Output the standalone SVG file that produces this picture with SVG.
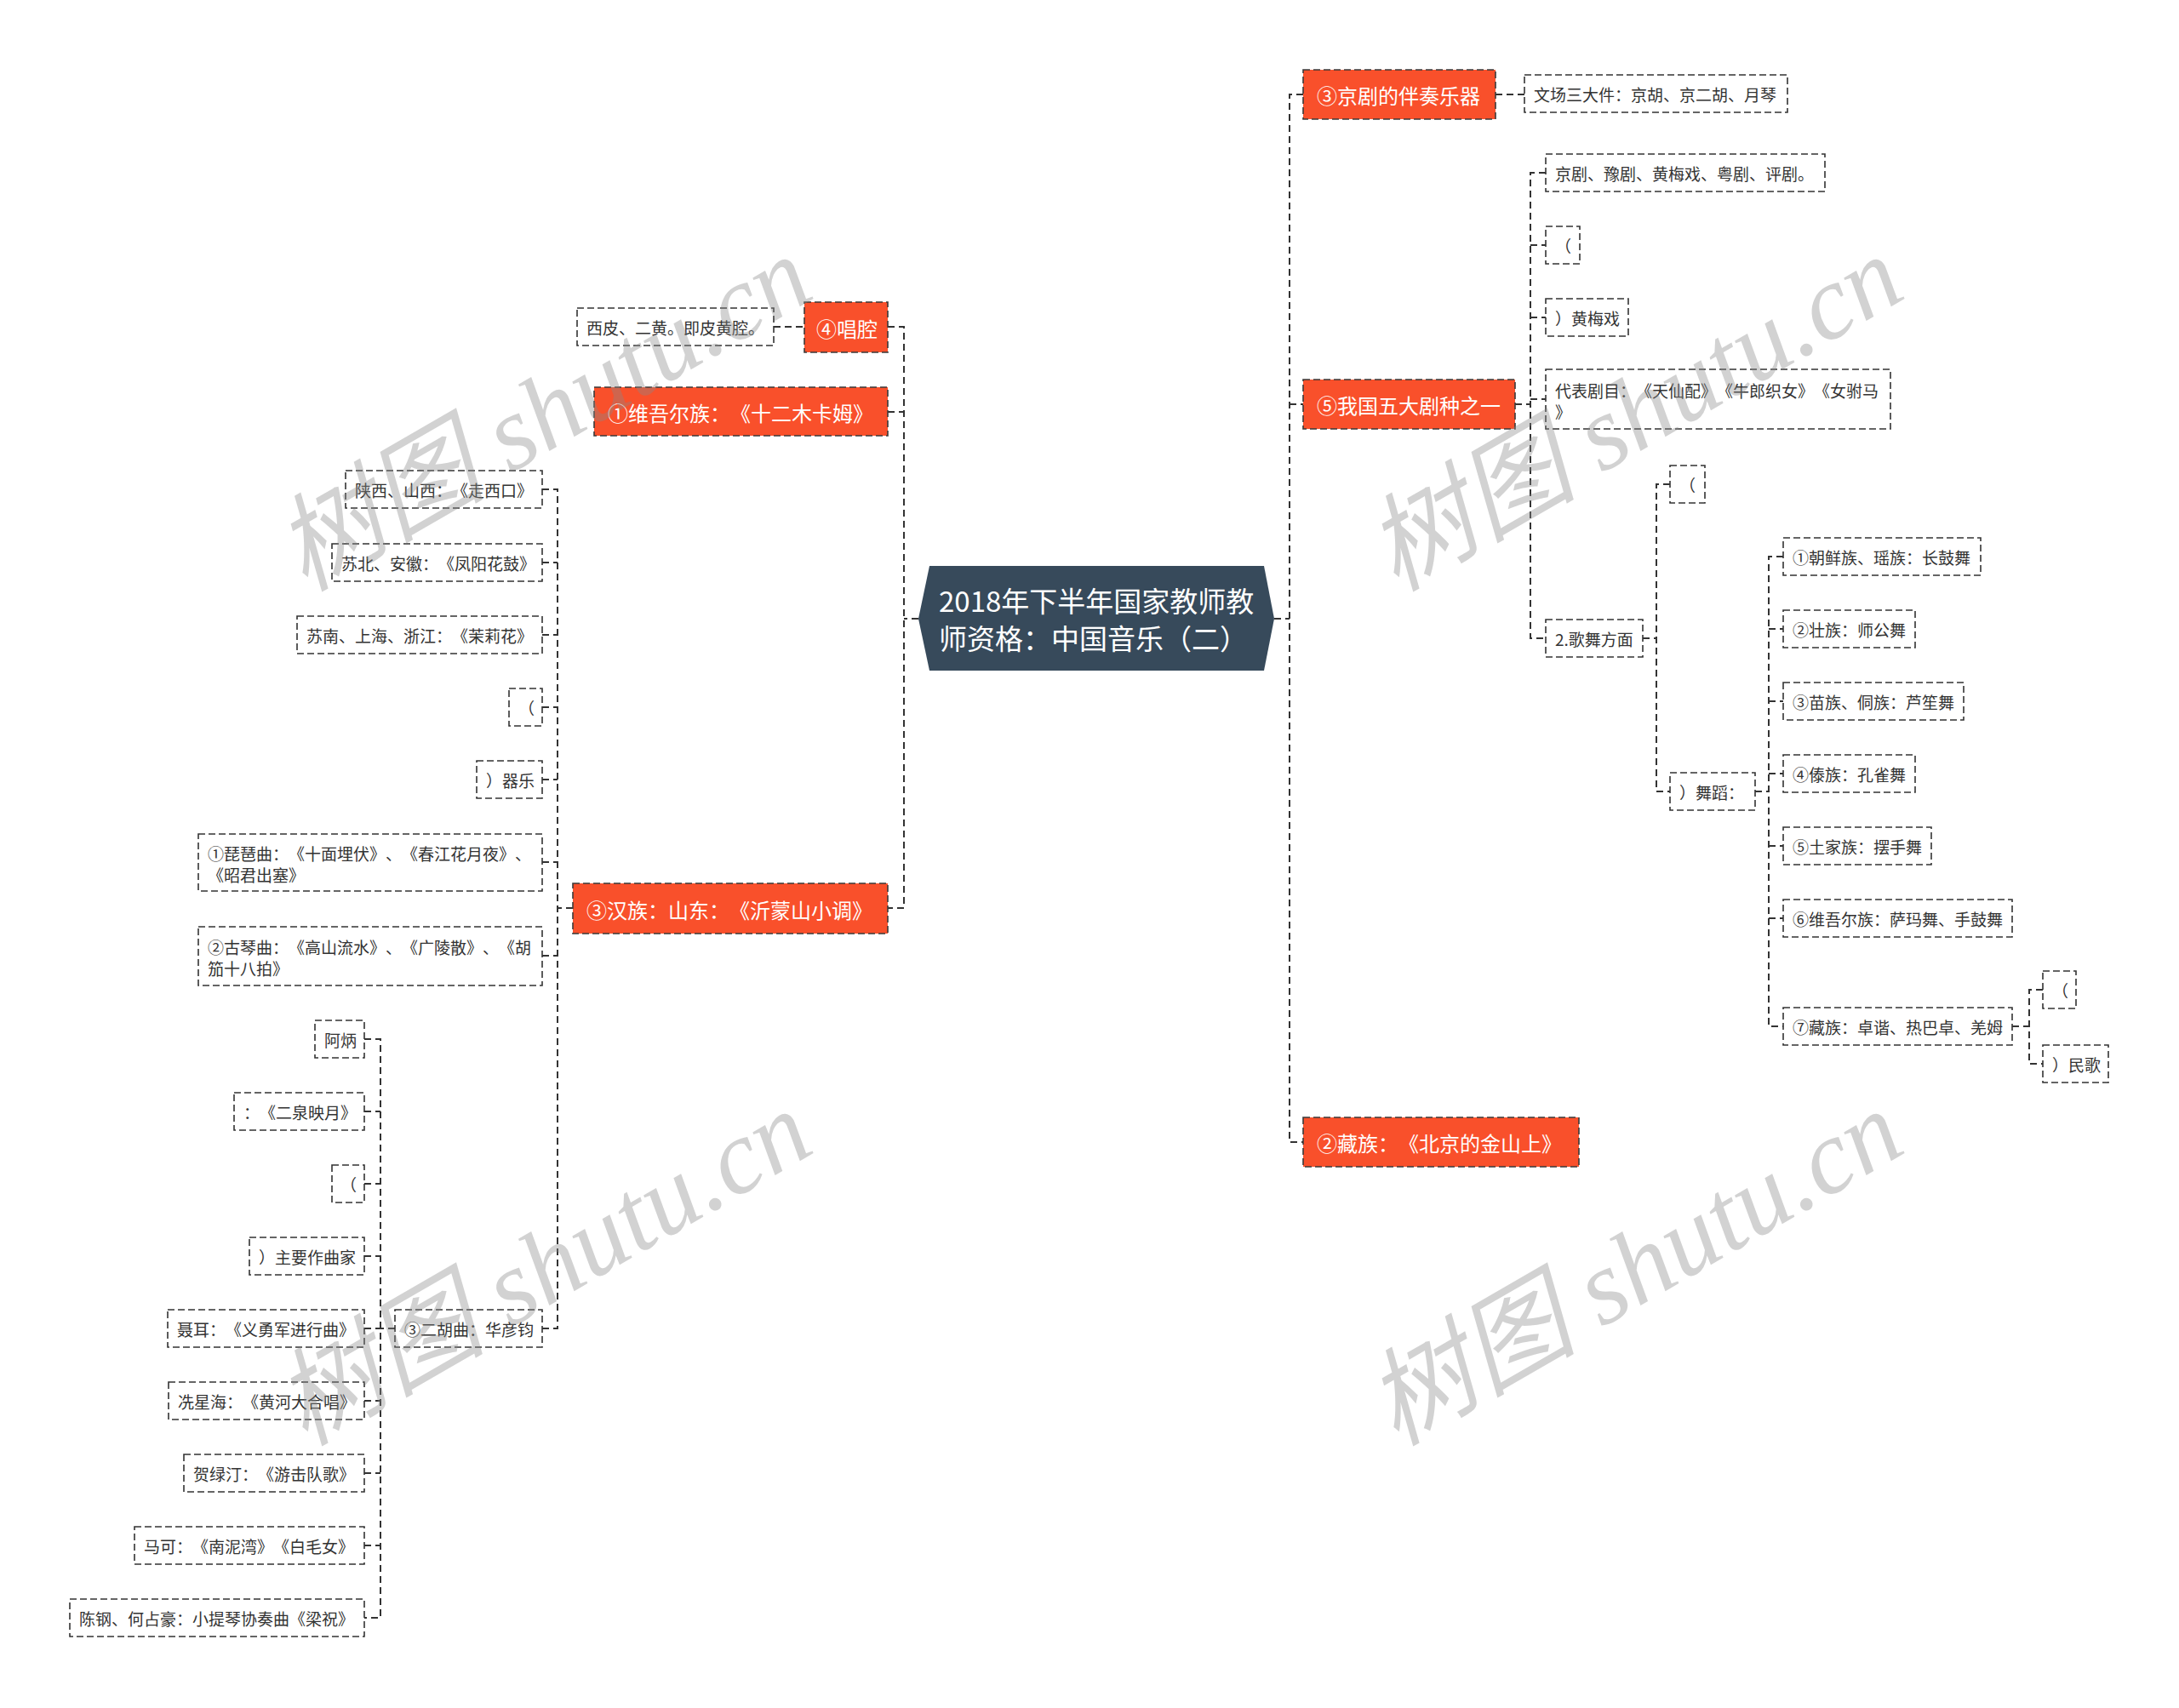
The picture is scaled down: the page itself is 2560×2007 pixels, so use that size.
<svg xmlns="http://www.w3.org/2000/svg" width="2560" height="2007" viewBox="0 0 2560 2007">
<style>
.bg{fill:#ffffff}
text{text-spacing-trim:space-all}
.leaf rect{fill:#ffffff;stroke:#333333;stroke-width:1.6;stroke-dasharray:8 4}
.leaf text{font-family:"Noto Sans CJK SC","Noto Sans",sans-serif;font-size:19px;fill:#333333;dominant-baseline:central}
.main rect{fill:#f9502b;stroke:#3a3a3a;stroke-width:1.6;stroke-dasharray:8 4}
.main text{font-family:"Noto Sans CJK SC","Noto Sans",sans-serif;font-size:24px;fill:#ffffff;dominant-baseline:central}
.root polygon{fill:#374a5b}
.root text{font-family:"Noto Sans CJK SC","Noto Sans",sans-serif;font-size:33px;fill:#ffffff;dominant-baseline:central}
#connectors path{fill:none;stroke:#333333;stroke-width:2;stroke-dasharray:8 5}
.wm{font-family:"Liberation Serif","Noto Sans CJK SC",serif;font-style:italic;font-size:124px;fill:#888888;fill-opacity:0.38}
</style>
<rect class="bg" x="0" y="0" width="2560" height="2007"/>

<g id="connectors">
<path d="M1079,727 H1062"/>
<path d="M1043,384 H1062 V1067 H1043"/>
<path d="M1043,484 H1062"/>
<path d="M909,384 H945"/>
<path d="M673,1067 H655"/>
<path d="M637,575 H655 V1561 H637"/>
<path d="M637,661 H655"/>
<path d="M637,746 H655"/>
<path d="M637,831 H655"/>
<path d="M637,916 H655"/>
<path d="M637,1013 H655"/>
<path d="M637,1123 H655"/>
<path d="M464,1561 H447"/>
<path d="M428,1221 H447 V1901 H428"/>
<path d="M428,1306 H447"/>
<path d="M428,1391 H447"/>
<path d="M428,1476 H447"/>
<path d="M428,1561 H447"/>
<path d="M428,1646 H447"/>
<path d="M428,1731 H447"/>
<path d="M428,1816 H447"/>
<path d="M1497,727 H1515"/>
<path d="M1531,111 H1515 V1342 H1531"/>
<path d="M1515,475 H1531"/>
<path d="M1757,111 H1791"/>
<path d="M1780,475 H1798"/>
<path d="M1816,203 H1798 V750 H1816"/>
<path d="M1798,288 H1816"/>
<path d="M1798,373 H1816"/>
<path d="M1798,469 H1816"/>
<path d="M1930,750 H1946"/>
<path d="M1962,569 H1946 V930 H1962"/>
<path d="M2062,930 H2078"/>
<path d="M2095,654 H2078 V1206 H2095"/>
<path d="M2078,739 H2095"/>
<path d="M2078,824 H2095"/>
<path d="M2078,909 H2095"/>
<path d="M2078,994 H2095"/>
<path d="M2078,1079 H2095"/>
<path d="M2364,1206 H2384"/>
<path d="M2400,1163 H2384 V1250 H2400"/>
</g>

<g id="root" class="root">
<polygon points="1079,727 1092,665 1485,665 1497,727 1485,788 1092,788"/>
<text x="1103" y="705">2018年下半年国家教师教</text>
<text x="1103" y="749">师资格：中国音乐（二）</text>
</g>

<g id="n-changqiang" class="main"><rect x="945" y="355" width="98" height="59"/><text x="959" y="385">④唱腔</text></g>
<g id="n-xipi" class="leaf"><rect x="678" y="362" width="231" height="44"/><text x="689" y="384">西皮、二黄。即皮黄腔。</text></g>
<g id="n-weiwuer" class="main"><rect x="698" y="455" width="345" height="57"/><text x="714" y="484">①维吾尔族：《十二木卡姆》</text></g>
<g id="n-hanzu" class="main"><rect x="673" y="1038" width="370" height="59"/><text x="689" y="1068">③汉族：山东：《沂蒙山小调》</text></g>

<g id="n-shanxi" class="leaf"><rect x="406" y="553" width="231" height="44"/><text x="417" y="575">陕西、山西：《走西口》</text></g>
<g id="n-subei" class="leaf"><rect x="390" y="639" width="247" height="44"/><text x="401" y="661">苏北、安徽：《凤阳花鼓》</text></g>
<g id="n-sunan" class="leaf"><rect x="349" y="724" width="288" height="44"/><text x="360" y="746">苏南、上海、浙江：《茉莉花》</text></g>
<g id="n-paren1" class="leaf"><rect x="598" y="809" width="39" height="44"/><text x="609" y="831">（</text></g>
<g id="n-qiyue" class="leaf"><rect x="560" y="894" width="77" height="44"/><text x="571" y="916">）器乐</text></g>
<g id="n-pipa" class="leaf"><rect x="233" y="980" width="404" height="67"/><text x="244" y="1002">①琵琶曲：《十面埋伏》、《春江花月夜》、</text><text x="244" y="1027">《昭君出塞》</text></g>
<g id="n-guqin" class="leaf"><rect x="233" y="1089" width="404" height="69"/><text x="244" y="1112">②古琴曲：《高山流水》、《广陵散》、《胡</text><text x="244" y="1137">笳十八拍》</text></g>
<g id="n-erhu" class="leaf"><rect x="464" y="1539" width="173" height="44"/><text x="475" y="1561">③二胡曲：华彦钧</text></g>

<g id="n-abing" class="leaf"><rect x="370" y="1199" width="58" height="44"/><text x="381" y="1221">阿炳</text></g>
<g id="n-erquan" class="leaf"><rect x="275" y="1284" width="153" height="44"/><text x="286" y="1306">：《二泉映月》</text></g>
<g id="n-paren2" class="leaf"><rect x="390" y="1369" width="38" height="44"/><text x="400" y="1391">（</text></g>
<g id="n-zuoqujia" class="leaf"><rect x="293" y="1454" width="135" height="44"/><text x="304" y="1476">）主要作曲家</text></g>
<g id="n-nieer" class="leaf"><rect x="197" y="1539" width="231" height="44"/><text x="208" y="1561">聂耳：《义勇军进行曲》</text></g>
<g id="n-xian" class="leaf"><rect x="198" y="1624" width="230" height="44"/><text x="209" y="1646">冼星海：《黄河大合唱》</text></g>
<g id="n-he" class="leaf"><rect x="216" y="1709" width="212" height="44"/><text x="227" y="1731">贺绿汀：《游击队歌》</text></g>
<g id="n-make" class="leaf"><rect x="158" y="1794" width="270" height="44"/><text x="169" y="1816">马可：《南泥湾》《白毛女》</text></g>
<g id="n-chen" class="leaf"><rect x="82" y="1879" width="346" height="44"/><text x="93" y="1901">陈钢、何占豪：小提琴协奏曲《梁祝》</text></g>

<g id="n-jingju" class="main"><rect x="1531" y="82" width="226" height="58"/><text x="1547" y="111">③京剧的伴奏乐器</text></g>
<g id="n-wenchang" class="leaf"><rect x="1791" y="88" width="309" height="44"/><text x="1802" y="110">文场三大件：京胡、京二胡、月琴</text></g>
<g id="n-wuda" class="main"><rect x="1531" y="446" width="249" height="58"/><text x="1547" y="475">⑤我国五大剧种之一</text></g>
<g id="n-zangzu" class="main"><rect x="1531" y="1313" width="324" height="58"/><text x="1547" y="1342">②藏族：《北京的金山上》</text></g>

<g id="n-juzhong" class="leaf"><rect x="1816" y="181" width="328" height="44"/><text x="1827" y="203">京剧、豫剧、黄梅戏、粤剧、评剧。</text></g>
<g id="n-paren3" class="leaf"><rect x="1816" y="266" width="40" height="44"/><text x="1827" y="288">（</text></g>
<g id="n-huangmei" class="leaf"><rect x="1816" y="351" width="97" height="44"/><text x="1827" y="373">）黄梅戏</text></g>
<g id="n-daibiao" class="leaf"><rect x="1816" y="434" width="405" height="70"/><text x="1827" y="458">代表剧目：《天仙配》《牛郎织女》《女驸马</text><text x="1827" y="483">》</text></g>
<g id="n-gewu" class="leaf"><rect x="1816" y="728" width="114" height="44"/><text x="1827" y="750">2.歌舞方面</text></g>
<g id="n-paren4" class="leaf"><rect x="1962" y="547" width="41" height="44"/><text x="1973" y="569">（</text></g>
<g id="n-wudao" class="leaf"><rect x="1962" y="908" width="100" height="44"/><text x="1973" y="930">）舞蹈：</text></g>

<g id="n-d1" class="leaf"><rect x="2095" y="632" width="232" height="44"/><text x="2106" y="654">①朝鲜族、瑶族：长鼓舞</text></g>
<g id="n-d2" class="leaf"><rect x="2095" y="717" width="155" height="44"/><text x="2106" y="739">②壮族：师公舞</text></g>
<g id="n-d3" class="leaf"><rect x="2095" y="802" width="212" height="44"/><text x="2106" y="824">③苗族、侗族：芦笙舞</text></g>
<g id="n-d4" class="leaf"><rect x="2095" y="887" width="155" height="44"/><text x="2106" y="909">④傣族：孔雀舞</text></g>
<g id="n-d5" class="leaf"><rect x="2095" y="972" width="174" height="44"/><text x="2106" y="994">⑤土家族：摆手舞</text></g>
<g id="n-d6" class="leaf"><rect x="2095" y="1057" width="269" height="44"/><text x="2106" y="1079">⑥维吾尔族：萨玛舞、手鼓舞</text></g>
<g id="n-d7" class="leaf"><rect x="2095" y="1184" width="269" height="44"/><text x="2106" y="1206">⑦藏族：卓谐、热巴卓、羌姆</text></g>
<g id="n-paren5" class="leaf"><rect x="2400" y="1141" width="39" height="44"/><text x="2411" y="1163">（</text></g>
<g id="n-minge" class="leaf"><rect x="2400" y="1228" width="77" height="44"/><text x="2411" y="1250">）民歌</text></g>

<g id="watermark">
<text class="wm" x="358" y="696" transform="rotate(-30 358 696)">树图 shutu.cn</text>
<text class="wm" x="358" y="1700" transform="rotate(-30 358 1700)">树图 shutu.cn</text>
<text class="wm" x="1640" y="696" transform="rotate(-30 1640 696)">树图 shutu.cn</text>
<text class="wm" x="1640" y="1700" transform="rotate(-30 1640 1700)">树图 shutu.cn</text>
</g>
</svg>
